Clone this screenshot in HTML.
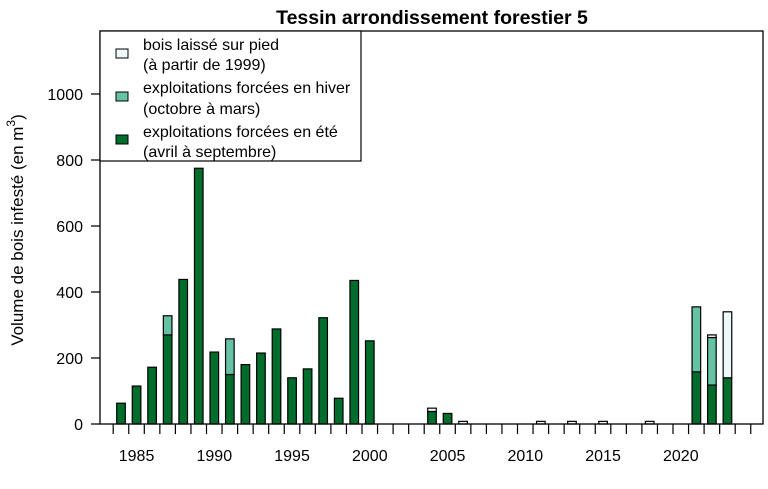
<!DOCTYPE html>
<html><head><meta charset="utf-8"><style>body{margin:0;background:#fff}</style></head><body>
<svg width="768" height="484" xmlns="http://www.w3.org/2000/svg" font-family="Liberation Sans, Arial, sans-serif">
<rect width="768" height="484" fill="#fff"/>
<text x="432" y="24" font-size="19.5" font-weight="bold" text-anchor="middle">Tessin arrondissement forestier 5</text>
<g stroke="#000" stroke-width="1.2">
<rect x="116.7" y="403.2" width="8.6" height="20.8" fill="#006d2c"/>
<rect x="132.25" y="386.05" width="8.6" height="37.95" fill="#006d2c"/>
<rect x="147.8" y="367.24" width="8.6" height="56.76" fill="#006d2c"/>
<rect x="163.35" y="334.9" width="8.6" height="89.1" fill="#006d2c"/>
<rect x="163.35" y="315.76" width="8.6" height="19.14" fill="#66c2a4"/>
<rect x="178.9" y="279.46" width="8.6" height="144.54" fill="#006d2c"/>
<rect x="194.45" y="168.25" width="8.6" height="255.75" fill="#006d2c"/>
<rect x="210" y="352.06" width="8.6" height="71.94" fill="#006d2c"/>
<rect x="225.55" y="374.5" width="8.6" height="49.5" fill="#006d2c"/>
<rect x="225.55" y="338.86" width="8.6" height="35.64" fill="#66c2a4"/>
<rect x="241.1" y="364.6" width="8.6" height="59.4" fill="#006d2c"/>
<rect x="256.65" y="353.05" width="8.6" height="70.95" fill="#006d2c"/>
<rect x="272.2" y="328.96" width="8.6" height="95.04" fill="#006d2c"/>
<rect x="287.75" y="377.8" width="8.6" height="46.2" fill="#006d2c"/>
<rect x="303.3" y="368.89" width="8.6" height="55.11" fill="#006d2c"/>
<rect x="318.85" y="317.74" width="8.6" height="106.26" fill="#006d2c"/>
<rect x="334.4" y="398.26" width="8.6" height="25.74" fill="#006d2c"/>
<rect x="349.95" y="280.45" width="8.6" height="143.55" fill="#006d2c"/>
<rect x="365.5" y="340.84" width="8.6" height="83.16" fill="#006d2c"/>
<rect x="427.7" y="411.46" width="8.6" height="12.54" fill="#006d2c"/>
<rect x="427.7" y="408.16" width="8.6" height="3.3" fill="#edf8fb"/>
<rect x="443.25" y="413.44" width="8.6" height="10.56" fill="#006d2c"/>
<rect x="458.8" y="421.36" width="8.6" height="2.64" fill="#edf8fb"/>
<rect x="536.55" y="421.36" width="8.6" height="2.64" fill="#edf8fb"/>
<rect x="567.65" y="421.36" width="8.6" height="2.64" fill="#edf8fb"/>
<rect x="598.75" y="421.36" width="8.6" height="2.64" fill="#edf8fb"/>
<rect x="645.4" y="421.36" width="8.6" height="2.64" fill="#edf8fb"/>
<rect x="692.05" y="371.86" width="8.6" height="52.14" fill="#006d2c"/>
<rect x="692.05" y="306.85" width="8.6" height="65.01" fill="#66c2a4"/>
<rect x="707.6" y="385.06" width="8.6" height="38.94" fill="#006d2c"/>
<rect x="707.6" y="337.54" width="8.6" height="47.52" fill="#66c2a4"/>
<rect x="707.6" y="334.9" width="8.6" height="2.64" fill="#edf8fb"/>
<rect x="723.15" y="377.8" width="8.6" height="46.2" fill="#006d2c"/>
<rect x="723.15" y="311.8" width="8.6" height="66" fill="#edf8fb"/>
</g>
<rect x="100" y="31" width="663" height="393" fill="none" stroke="#000" stroke-width="1.3"/>
<path stroke="#000" stroke-width="1.2" fill="none" d="M113.2 424v10M128.75 424v10M144.3 424v10M159.85 424v10M175.4 424v10M190.95 424v10M206.5 424v10M222.05 424v10M237.6 424v10M253.15 424v10M268.7 424v10M284.25 424v10M299.8 424v10M315.35 424v10M330.9 424v10M346.45 424v10M362 424v10M377.55 424v10M393.1 424v10M408.65 424v10M424.2 424v10M439.75 424v10M455.3 424v10M470.85 424v10M486.4 424v10M501.95 424v10M517.5 424v10M533.05 424v10M548.6 424v10M564.15 424v10M579.7 424v10M595.25 424v10M610.8 424v10M626.35 424v10M641.9 424v10M657.45 424v10M673 424v10M688.55 424v10M704.1 424v10M719.65 424v10M735.2 424v10M750.75 424v10M91 424h9M91 358h9M91 292h9M91 226h9M91 160h9M91 94h9"/>
<g font-size="16" text-anchor="end">
<text x="83" y="430">0</text><text x="83" y="364">200</text><text x="83" y="298">400</text><text x="83" y="232">600</text><text x="83" y="166">800</text><text x="83" y="100">1000</text>
</g>
<g font-size="16" text-anchor="middle">
<text x="136.55" y="461">1985</text><text x="214.3" y="461">1990</text><text x="292.05" y="461">1995</text><text x="369.8" y="461">2000</text><text x="447.55" y="461">2005</text><text x="525.3" y="461">2010</text><text x="603.05" y="461">2015</text><text x="680.8" y="461">2020</text>
</g>
<text transform="translate(23,230) rotate(-90)" font-size="17" text-anchor="middle">Volume de bois infesté (en m<tspan dy="-8" font-size="12">3</tspan><tspan dy="8">)</tspan></text>
<rect x="100" y="31" width="261" height="130" fill="#fff" stroke="#000" stroke-width="1.2"/>
<rect x="116" y="49" width="12" height="9" fill="#edf8fb" stroke="#000"/>
<rect x="116" y="92" width="12" height="9" fill="#66c2a4" stroke="#000"/>
<rect x="116" y="135" width="12" height="9" fill="#006d2c" stroke="#000"/>
<g font-size="16">
<text x="143" y="50">bois laissé sur pied</text><text x="143" y="70">(à partir de 1999)</text>
<text x="143" y="93">exploitations forcées en hiver</text><text x="143" y="114">(octobre à mars)</text>
<text x="143" y="137">exploitations forcées en été</text><text x="143" y="157">(avril à septembre)</text>
</g>
</svg>
</body></html>
